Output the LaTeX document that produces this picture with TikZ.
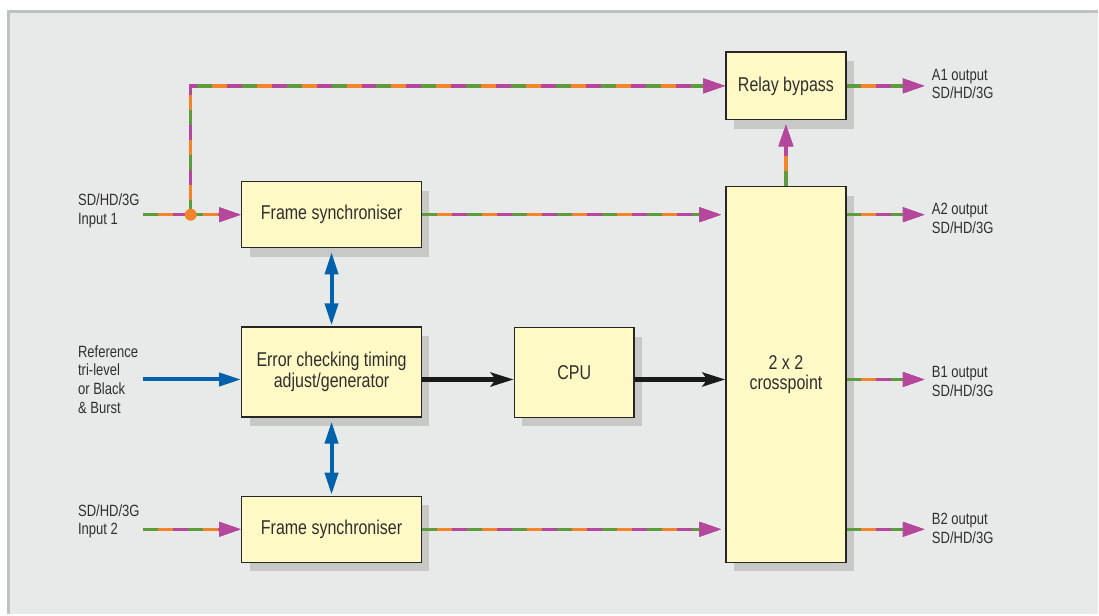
\documentclass[tikz,border=0pt]{standalone}
\usepackage{fontspec}
\setmainfont{Liberation Sans}[FakeStretch=0.8]
\usepackage{xcolor}
\usepackage{tikz}
\usetikzlibrary{arrows.meta,shadows}
\definecolor{panelfill}{HTML}{E8EAE9}
\definecolor{panelline}{HTML}{BCC4BF}
\definecolor{boxfill}{HTML}{FFF9C5}
\definecolor{boxline}{HTML}{262626}
\definecolor{shadowgray}{HTML}{C8C9C7}
\definecolor{textgray}{HTML}{2F2F2F}
\definecolor{sigmag}{HTML}{B5489C}
\definecolor{siggreen}{HTML}{5E9B3E}
\definecolor{sigorange}{HTML}{F3842A}
\definecolor{refblue}{HTML}{0062AC}
\definecolor{ctrlblack}{HTML}{1A1A1A}
\newcommand\boxfont{\fontsize{20}{20.5}\selectfont}
\newcommand\lblfont{\fontsize{16.3}{18.7}\selectfont}
\tikzstyle{block} = [rectangle, draw=boxline, line width=1.3pt, fill=boxfill, text=textgray, font=\boxfont, align=center, inner sep=0pt, drop shadow={shadow xshift=8pt, shadow yshift=-9pt, fill=shadowgray, opacity=1}]
\tikzstyle{lbl} = [align=left, anchor=west, inner sep=0pt, font=\lblfont, text=textgray]
\tikzstyle{sig} = [line width=3.5pt, draw=sigmag, -{Triangle[length=22pt,width=14pt]},
  postaction={draw=siggreen, line width=3.5pt, dash pattern=on 15pt off 30pt, -{Triangle[length=22pt,width=14pt,color=sigmag]}},
  postaction={draw=sigorange, line width=3.5pt, dash pattern=on 15pt off 30pt, dash phase=30pt, -{Triangle[length=22pt,width=14pt,color=sigmag]}}]
\tikzstyle{refarrow} = [line width=4pt, draw=refblue, -{Triangle[length=22pt,width=13pt]}]
\tikzstyle{biarrow} = [line width=4pt, draw=refblue, {Triangle[length=22pt,width=13pt]}-{Triangle[length=22pt,width=13pt]}, shorten <=4pt, shorten >=1pt]
\tikzstyle{ctrl} = [line width=4.5pt, draw=ctrlblack, -{Stealth[length=23pt,width=14pt,inset=5pt]}]

\begin{document}
\begin{tikzpicture}[x=1pt,y=-1pt]
	\fill [white] (0,0) rectangle (1099,615);
	\fill [panelfill] (7,10) rectangle (1099,615);
	\draw [panelline, line width=3pt] (8.5,615) -- (8.5,11.5) -- (1099,11.5);

	% blocks
	\node (relay) [block, minimum width=120pt, minimum height=68pt] at (787,86) {Relay bypass};
	\node (xpt) [block, minimum width=120pt, minimum height=376pt] at (787,375) {2 x 2\\crosspoint};
	\node (fsa) [block, minimum width=180pt, minimum height=66pt] at (332,215) {Frame synchroniser};
	\node (err) [block, minimum width=180pt, minimum height=90pt] at (332,372.5) {Error checking timing\\adjust/generator};
	\node (cpu) [block, minimum width=120pt, minimum height=90pt] at (575,373) {CPU};
	\node (fsb) [block, minimum width=180pt, minimum height=66pt] at (332,530) {Frame synchroniser};

	% inputs
	\coordinate (ina) at (143,215);
	\coordinate (refin) at (143,380);
	\coordinate (inb) at (143,530);
	\coordinate (tap) at (191,215);
	\node (lina) [lbl] at (78,211) {SD/HD/3G\\Input 1};
	\node (lref) [lbl] at (78,380) {Reference\\tri-level\\or Black\\\& Burst};
	\node (linb) [lbl] at (78,522) {SD/HD/3G\\Input 2};

	% outputs
	\coordinate (outa1) at (926,86);
	\coordinate (outa2) at (926,215);
	\coordinate (outb1) at (926,380);
	\coordinate (outb2) at (926,530);
	\node (la1) [lbl] at (933,84) {A1 output\\SD/HD/3G};
	\node (la2) [lbl] at (933,219) {A2 output\\SD/HD/3G};
	\node (lb1) [lbl] at (933,382) {B1 output\\SD/HD/3G};
	\node (lb2) [lbl] at (933,529) {B2 output\\SD/HD/3G};

	% video paths
	\draw [sig] (ina) -- (fsa.west);
	\draw [sig] (tap) |- (relay.west);
	\fill [sigorange] (tap) circle (6pt);
	\draw [sig] (fsa.east) -- ([xshift=-4pt]fsa.east -| xpt.west);
	\draw [sig] (inb) -- (fsb.west);
	\draw [sig] (fsb.east) -- ([xshift=-4pt]fsb.east -| xpt.west);
	\draw [sig, shorten >=4pt] (xpt.north) -- (relay.south);
	\draw [sig] (relay.east) -- (outa1);
	\draw [sig] (xpt.east |- outa2) -- (outa2);
	\draw [sig] (xpt.east |- outb1) -- (outb1);
	\draw [sig] (xpt.east |- outb2) -- (outb2);

	% reference and control
	\draw [refarrow] (refin) -- (refin -| err.west);
	\draw [biarrow] (fsa.south) -- (err.north);
	\draw [biarrow] (err.south) -- (fsb.north);
	\draw [ctrl] (err.east |- refin) -- (cpu.west |- refin);
	\draw [ctrl] (cpu.east |- refin) -- (xpt.west |- refin);
\end{tikzpicture}
\end{document}
